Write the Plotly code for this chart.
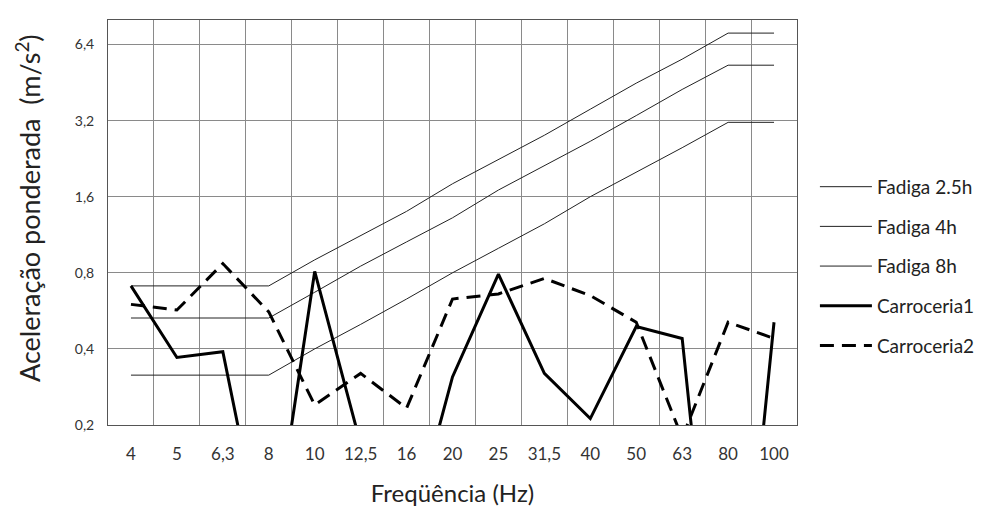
import math
import plotly.graph_objects as go

freq_labels = ["4", "5", "6,3", "8", "10", "12,5", "16", "20", "25", "31,5", "40", "50", "63", "80", "100"]

fadiga_25h = [0.71, 0.71, 0.71, 0.71, 0.90, 1.12, 1.40, 1.80, 2.24, 2.80, 3.55, 4.50, 5.60, 7.10, 7.10]
fadiga_4h = [0.53, 0.53, 0.53, 0.53, 0.67, 0.85, 1.06, 1.32, 1.70, 2.12, 2.65, 3.35, 4.25, 5.30, 5.30]
fadiga_8h = [0.315, 0.315, 0.315, 0.315, 0.40, 0.50, 0.63, 0.80, 1.00, 1.25, 1.60, 2.00, 2.50, 3.15, 3.15]
carroceria1 = [0.71, 0.37, 0.39, 0.05, 0.81, 0.168, 0.065, 0.31, 0.79, 0.32, 0.212, 0.49, 0.44, 0.008, 0.51]
carroceria2 = [0.60, 0.57, 0.87, 0.56, 0.24, 0.32, 0.233, 0.63, 0.66, 0.76, 0.65, 0.51, 0.178, 0.51, 0.44]

y_ticks = [0.2, 0.4, 0.8, 1.6, 3.2, 6.4]
y_tick_text = ["0,2", "0,4", "0,8", "1,6", "3,2", "6,4"]

FONT = "Lato, 'Open Sans', sans-serif"

fig = go.Figure()
series = [
    ("Fadiga 2.5h", fadiga_25h, dict(color="#222222", width=1)),
    ("Fadiga 4h", fadiga_4h, dict(color="#222222", width=1)),
    ("Fadiga 8h", fadiga_8h, dict(color="#222222", width=1)),
    ("Carroceria1", carroceria1, dict(color="#000000", width=3)),
    ("Carroceria2", carroceria2, dict(color="#000000", width=3, dash="14px,8px")),
]
for name, vals, line in series:
    fig.add_trace(go.Scatter(
        x=freq_labels, y=vals, name=name, mode="lines", line=line,
        legendgroup=name, hoverinfo="x+y+name",
    ))

fig.update_layout(
    width=993, height=514,
    margin=dict(l=100, r=204, t=12, b=97),
    paper_bgcolor="white", plot_bgcolor="white",
    font=dict(family=FONT, color="#222222"),
    legend=dict(
        x=1.026, xanchor="left", y=0.635, yanchor="top",
        font=dict(size=19, color="#222222"),
        tracegroupgap=12, itemwidth=52,
        bgcolor="rgba(0,0,0,0)",
    ),
    showlegend=True,
    annotations=[dict(
        text="Aceleração ponderada  (m/s<sup>2</sup>)",
        xref="paper", yref="paper", x=-0.116, y=0.536,
        xanchor="center", yanchor="middle", textangle=-90, showarrow=False,
        font=dict(size=27, color="#222222"),
    )],
)
fig.update_xaxes(
    type="category", categoryorder="array", categoryarray=freq_labels,
    range=[-0.5, 14.5], tickson="boundaries",
    showgrid=True, gridcolor="#8a8a8a", gridwidth=1,
    showline=True, linecolor="#555555", linewidth=1, mirror=True,
    ticks="", ticklabelstandoff=14, tickfont=dict(size=17, color="#333333"),
    title=dict(text="Freqüência (Hz)", font=dict(size=24, color="#222222"), standoff=21),
    zeroline=False,
)
fig.update_yaxes(
    type="log", range=[math.log10(0.2), math.log10(8.0)],
    tickvals=y_ticks, ticktext=y_tick_text,
    showgrid=True, gridcolor="#8a8a8a", gridwidth=1,
    showline=True, linecolor="#555555", linewidth=1, mirror=True,
    ticks="", ticklabelstandoff=10, tickfont=dict(size=14, color="#333333"),
    zeroline=False,
)

fig.write_html("out.html")
